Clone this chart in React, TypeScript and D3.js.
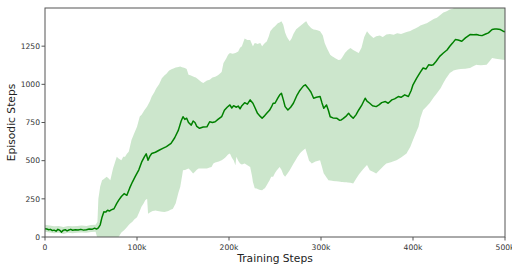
import React from "react";
import * as d3 from "d3";

// Training steps (k) and mean episodic steps
const meanSteps = [0,2,4,6,8,10,12,14,16,18,20,22,24,26,28,30,33,36,39,42,45,48,51,54,56,58,60,62,64,66,68,70,72,75,78,80,83,86,89,92,95,98,102,105,108,110,112,114,116,120,124,128,132,137,141,145,148,150,152,154,156,159,161,163,165,168,172,176,179,182,185,188,192,195,198,201,203,205,208,210,212,214,217,220,223,226,228,231,234,236,238,241,244,246,248,250,253,255,257,259,261,264,267,270,274,277,279,281,283,286,289,292,295,299,301,303,306,308,310,313,317,320,322,324,327,330,332,335,338,341,344,348,350,353,356,360,363,366,370,373,377,380,384,387,391,395,398,400,404,408,411,414,417,420,422,425,429,433,437,440,443,446,449,453,457,462,466,469,472,475,479,482,486,489,491,495,498,500];
const meanValues = [55,52,48,50,42,45,38,50,44,32,45,48,40,46,50,44,48,46,50,45,48,52,50,58,52,60,80,130,165,163,175,170,178,185,220,240,265,284,273,320,360,395,440,490,525,545,503,530,547,555,568,580,592,613,650,700,760,788,770,778,750,733,760,750,725,712,720,722,755,750,755,770,788,830,850,865,845,860,850,858,840,860,880,870,898,876,850,810,790,778,790,810,830,850,876,876,910,930,942,900,854,832,850,876,930,960,975,990,997,975,950,909,915,920,880,843,865,830,788,780,778,765,767,775,790,810,795,778,800,832,860,909,890,876,860,854,865,880,887,876,898,905,920,915,931,920,960,997,1040,1080,1107,1100,1128,1125,1128,1150,1183,1205,1225,1249,1270,1293,1290,1282,1304,1326,1325,1326,1322,1319,1330,1337,1359,1362,1363,1359,1348,1345];

// Upper bound of the shaded band
const upperSteps = [0,5,10,15,20,25,30,35,40,45,50,55,57,58,60,62,64,67,69,71,74,78,80,83,85,87,89,91,94,97,100,103,105,108,111,114,116,119,121,124,127,130,132,135,138,142,147,150,152,154,156,158,161,164,167,170,172,176,179,182,185,188,192,194,197,199,201,204,207,210,212,214,217,220,223,226,228,231,234,236,238,241,243,245,248,250,253,255,257,259,261,263,266,268,270,273,275,278,281,284,286,289,292,296,299,302,304,307,310,313,316,319,321,323,326,329,332,335,338,341,344,347,350,353,357,360,364,367,371,375,379,383,387,390,394,397,400,404,408,411,415,419,423,426,430,433,437,440,443,446,450,460,470,480,490,500];
const upperValues = [80,75,70,72,65,72,70,72,75,72,78,80,100,250,330,372,380,394,385,372,450,525,515,503,525,525,545,558,635,680,722,790,800,830,854,890,920,950,975,1000,1040,1060,1070,1090,1100,1110,1117,1110,1107,1100,1063,1060,1051,1045,1030,1015,1008,1025,1030,1045,1050,1060,1080,1140,1170,1194,1205,1200,1205,1215,1240,1250,1300,1290,1290,1250,1270,1265,1270,1250,1265,1280,1310,1350,1370,1380,1400,1405,1414,1390,1340,1310,1282,1300,1330,1360,1370,1385,1400,1414,1390,1370,1359,1355,1348,1320,1270,1230,1194,1180,1170,1160,1161,1175,1205,1225,1238,1225,1215,1205,1240,1310,1348,1325,1304,1315,1320,1310,1326,1330,1325,1335,1330,1337,1345,1350,1359,1370,1385,1392,1400,1415,1430,1436,1455,1470,1480,1490,1495,1505,1520,1540,1560,1570,1580,1590];

// Lower bound of the shaded band
const lowerSteps = [0,5,10,15,20,25,30,35,40,45,50,55,57,60,65,70,75,80,83,86,89,92,95,97,100,103,105,107,109,111,112,114,117,120,124,127,130,134,137,139,142,145,147,149,150,153,156,158,161,163,165,167,172,176,179,181,183,186,189,192,196,199,201,203,205,207,208,210,212,214,217,220,223,225,226,228,230,233,236,239,241,244,246,248,250,252,255,257,259,261,264,266,270,274,277,280,283,285,287,290,294,299,301,303,306,308,312,317,322,328,332,335,338,342,346,350,353,357,360,364,368,371,376,382,387,393,397,400,403,406,408,411,414,418,422,426,430,433,436,440,444,447,452,457,462,466,469,474,480,483,486,490,494,498,500];
const lowerValues = [35,30,25,28,20,28,25,28,30,28,32,35,-10,-40,-50,-40,-20,0,30,45,64,85,100,115,130,170,200,218,240,251,153,160,170,174,168,165,163,170,180,185,220,290,328,400,437,440,449,437,416,427,440,449,448,449,455,459,482,490,495,503,520,540,547,520,503,470,525,500,482,475,482,470,459,400,361,320,317,310,306,320,339,370,395,394,420,437,459,440,410,394,420,437,480,520,547,565,580,540,500,482,495,503,460,416,390,372,368,365,361,358,355,350,380,416,445,471,437,425,416,440,465,482,490,503,520,547,590,635,680,722,780,832,850,876,910,942,975,1008,1040,1074,1090,1096,1100,1102,1107,1120,1128,1125,1128,1150,1172,1168,1165,1161,1160];

const xTicks = [0, 100, 200, 300, 400, 500];
const xTickLabels = ["0", "100k", "200k", "300k", "400k", "500k"];
const yTicks = [0, 250, 500, 750, 1000, 1250];

const W = 512, H = 266;
const M = { left: 45, right: 7, top: 8, bottom: 29 };

export default function App() {
  const x = d3.scaleLinear().domain([0, 500]).range([M.left, W - M.right]);
  const y = d3.scaleLinear().domain([0, 1500]).range([H - M.bottom, M.top]);

  // band: interpolate bounds onto a common grid built from both step arrays
  const grid = Array.from(new Set([...upperSteps, ...lowerSteps])).sort((a, b) => a - b);
  const interp = (xs: number[], ys: number[]) => d3.scaleLinear().domain(xs).range(ys).clamp(true);
  const up = interp(upperSteps, upperValues);
  const lo = interp(lowerSteps, lowerValues);
  const band = d3.area<number>()
    .x((d) => x(d))
    .y0((d) => y(lo(d)))
    .y1((d) => y(up(d)));
  const line = d3.line<number>()
    .x((d, i) => x(meanSteps[i]))
    .y((d) => y(d));

  const font = "'DejaVu Sans', sans-serif";
  const axisColor = "#555";
  const textColor = "#333";
  const x0 = M.left, x1 = W - M.right, y0 = H - M.bottom, y1 = M.top;

  return (
    <svg width={W} height={H} style={{ position: "absolute", left: 0, top: 0 }} fontFamily={font}>
      <defs>
        <clipPath id="plot">
          <rect x={x0} y={y1} width={x1 - x0} height={y0 - y1} />
        </clipPath>
      </defs>
      <rect width={W} height={H} fill="#fff" />
      <g clipPath="url(#plot)">
        <path d={band(grid) || ""} fill="#008000" fillOpacity={0.2} stroke="none" />
        <path d={line(meanValues) || ""} fill="none" stroke="#008000" strokeWidth={1.5} strokeLinejoin="round" />
      </g>
      <rect x={x0} y={y1} width={x1 - x0} height={y0 - y1} fill="none" stroke={axisColor} strokeWidth={1} />
      {xTicks.map((t, i) => (
        <g key={"x" + t}>
          <line x1={x(t)} x2={x(t)} y1={y0} y2={y0 + 3.5} stroke={axisColor} />
          <text x={x(t)} y={y0 + 13} fontSize={7.6} textAnchor="middle" fill={textColor}>{xTickLabels[i]}</text>
        </g>
      ))}
      {yTicks.map((t) => (
        <g key={"y" + t}>
          <line x1={x0 - 3.5} x2={x0} y1={y(t)} y2={y(t)} stroke={axisColor} />
          <text x={x0 - 5} y={y(t) + 2.8} fontSize={7.6} textAnchor="end" fill={textColor}>{t}</text>
        </g>
      ))}
      <text x={(x0 + x1) / 2} y={H - 4} fontSize={10.7} textAnchor="middle" fill="#222">Training Steps</text>
      <text transform={`translate(15, ${(y0 + y1) / 2}) rotate(-90)`} fontSize={10.7} textAnchor="middle" fill="#222">Episodic Steps</text>
    </svg>
  );
}
